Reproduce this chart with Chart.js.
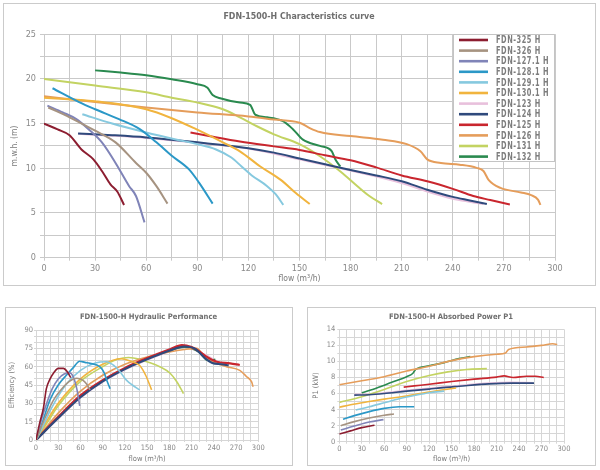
<!DOCTYPE html>
<html><head><meta charset="utf-8">
<script src="https://cdn.jsdelivr.net/npm/chart.js@4.4.1/dist/chart.umd.min.js"></script>
<style>
html,body{margin:0;padding:0;background:#fff;width:600px;height:470px;overflow:hidden}
.panel{position:absolute;border:1.5px solid #cbcbcb;box-sizing:border-box}
canvas{position:absolute}
</style></head><body>
<div class="panel" style="left:3px;top:3px;width:593px;height:283px"></div>
<div class="panel" style="left:5px;top:307px;width:288px;height:159px"></div>
<div class="panel" style="left:307px;top:307px;width:289px;height:159px"></div>
<canvas id="c1" width="590" height="280" style="left:4px;top:4px"></canvas>
<canvas id="c2" width="285" height="156" style="left:6px;top:308px"></canvas>
<canvas id="c3" width="286" height="156" style="left:308px;top:308px"></canvas>
<script>
// ---------- series names ----------
const seriesNames = ['FDN-325 H','FDN-326 H','FDN-127.1 H','FDN-128.1 H','FDN-129.1 H','FDN-130.1 H','FDN-123 H','FDN-124 H','FDN-125 H','FDN-126 H','FDN-131 H','FDN-132 H'];

// ---------- head curves (flow m3/h, head m) ----------
const q325h = [0, 8, 15, 22, 29, 34, 39, 43, 47];
const h325  = [15, 14.35, 13.7, 12.1, 11.0, 9.7, 8.2, 7.4, 5.9];
const q326h = [2.5, 15, 30, 42, 54, 60, 66, 72.5];
const h326  = [16.8, 15.7, 14.2, 12.9, 10.6, 9.5, 8.0, 6.05];
const q1271h = [2, 11, 19, 26, 34, 42, 50, 54, 59];
const h1271  = [17, 16.25, 15.5, 14.4, 12.9, 10.6, 8.0, 6.9, 3.95];
const q1281h = [5, 20.6, 30, 44, 56, 66, 75, 85, 91, 99];
const h1281  = [18.95, 17.4, 16.6, 15.5, 14.4, 12.9, 11.4, 9.9, 8.4, 6.05];
const q1291h = [22.5, 40, 60, 78, 90, 101, 110, 116, 122, 131, 136, 140.5];
const h1291  = [16.05, 15.0, 14.0, 13.2, 12.7, 12.1, 11.2, 10.2, 9.2, 8.0, 7.1, 5.9];
const q1301h = [0, 30, 60, 75, 89, 105, 115, 127, 139, 148, 156];
const h1301  = [17.9, 17.5, 16.6, 15.6, 14.4, 12.9, 11.9, 10.2, 8.7, 7.2, 6.0];
const q123h = [20, 40, 60, 90, 120, 150, 180, 210, 225, 240, 250, 258];
const h123  = [13.85, 13.65, 13.4, 12.85, 12.2, 11.0, 9.75, 8.35, 7.4, 6.6, 6.25, 6.0];
const q124h = [20, 40, 60, 90, 120, 135, 150, 165, 180, 195, 210, 225, 240, 250, 260];
const h124  = [13.9, 13.7, 13.45, 12.9, 12.25, 11.75, 11.1, 10.45, 9.8, 9.2, 8.55, 7.6, 6.8, 6.4, 6.0];
const q125h = [86, 100, 115, 135, 150, 165, 180, 195, 210, 225, 240, 252, 262, 273.5];
const h125  = [14.0, 13.5, 13.0, 12.45, 12.05, 11.45, 10.9, 10.1, 9.2, 8.55, 7.7, 6.9, 6.45, 5.95];
const q126h = [0, 30, 60, 90, 120, 135, 150, 156, 162, 180, 199, 213, 221, 225, 233, 244, 254, 258, 261, 268, 280, 286, 290, 291.5];
const h126  = [18.05, 17.4, 16.8, 16.25, 15.8, 15.45, 15.1, 14.5, 14.05, 13.6, 13.2, 12.7, 11.9, 11.0, 10.6, 10.4, 10.05, 9.7, 8.7, 7.8, 7.3, 7.0, 6.5, 5.9];
const q131h = [0, 30, 60, 75, 89, 105, 115, 125, 135, 150, 162, 174, 184, 191, 198.5];
const h131  = [20, 19.25, 18.5, 17.9, 17.4, 16.6, 15.7, 14.7, 13.8, 12.7, 11.35, 9.65, 8.0, 6.9, 6.0];
const q132h = [30, 45, 60, 75, 90, 96, 99, 104, 115, 121, 124, 131, 140, 146, 152, 162, 169, 171, 174];
const h132  = [20.95, 20.7, 20.4, 19.95, 19.4, 19.0, 18.2, 17.8, 17.35, 17.1, 16.0, 15.7, 15.3, 14.4, 13.2, 12.5, 11.9, 11.0, 10.2];

// ---------- efficiency curves (flow m3/h, %) ----------
const q325e = [0, 5, 10, 14, 19, 24, 30, 37, 42, 47];
const e325  = [0, 14, 26, 42, 50, 55, 58.6, 58.6, 56, 51];
const q326e = [0, 10, 23, 35, 45, 55, 63, 68, 73];
const e326  = [0, 15, 32, 42, 48, 50.5, 49, 46, 41];
const q1271e = [0, 8, 15, 22, 30, 38, 45, 50, 55, 59];
const e1271  = [0, 18, 31, 42, 50, 54, 55, 52, 42, 28];
const q1281e = [0, 5, 10, 19, 30, 41, 50, 59, 66, 73, 86, 92, 96, 100];
const e1281  = [0, 8, 17, 33, 45, 53, 59, 64.5, 63.5, 62.7, 60, 55, 48, 42];
const q1291e = [0, 10, 20, 40, 60, 80, 95, 105, 113, 122, 130, 140];
const e1291  = [0, 12, 25, 45, 57, 63, 64, 61, 56, 49, 45, 41];
const q1301e = [0, 15, 30, 60, 90, 115, 130, 140, 148, 156];
const e1301  = [0, 16, 30, 50, 62, 66.5, 64, 61, 53, 41];
const q123e = [0, 30, 60, 90, 120, 150, 180, 200, 215, 228, 240, 250, 258];
const e123  = [0, 17.5, 34.5, 47.5, 57.5, 65.5, 72.5, 75.8, 73.5, 70, 66, 63, 61];
const q124e = [0, 30, 60, 90, 120, 150, 180, 200, 215, 228, 238, 250, 260];
const e124  = [0, 18, 35, 48, 58, 66, 73, 76.5, 74.5, 67, 63, 62, 61];
const q125e = [0, 30, 60, 90, 120, 150, 180, 197, 210, 221, 230, 244, 262, 275];
const e125  = [0, 19, 36.5, 49, 59, 67, 74, 77.7, 76, 72.3, 68.2, 64, 62.7, 61.4];
const q126e = [0, 30, 60, 90, 120, 150, 180, 200, 217, 225, 239, 257, 275, 284, 291, 293];
const e126  = [0, 22, 40, 53, 62, 68, 72, 74, 75, 70, 64, 60, 57, 52, 47.5, 43.5];
const q131e = [0, 15, 30, 60, 90, 110, 125, 140, 150, 167, 181, 190, 199];
const e131  = [0, 14, 28, 48, 60, 66, 67.5, 66, 64, 60, 54.6, 47.7, 38];
const q132e = [0, 30, 60, 90, 120, 150, 175, 200, 220, 232, 242];
const e132  = [0, 18.5, 35.5, 48.5, 58.5, 66.5, 72, 76, 72, 65, 66];

// ---------- absorbed power curves (flow m3/h, kW) ----------
const q325p = [0, 15, 30, 47];
const p325  = [0.95, 1.35, 1.75, 2.05];
const q326p = [2, 20, 40, 60, 73];
const p326  = [2.0, 2.5, 2.95, 3.3, 3.45];
const q1271p = [2, 20, 40, 59];
const p1271  = [1.45, 1.95, 2.45, 2.75];
const q1281p = [5, 20, 40, 60, 80, 100];
const p1281  = [2.8, 3.25, 3.75, 4.15, 4.35, 4.35];
const q1291p = [22, 40, 60, 80, 100, 120, 140];
const p1291  = [3.95, 4.35, 4.85, 5.35, 5.75, 6.1, 6.3];
const q1301p = [0, 15, 40, 60, 90, 120, 156];
const p1301  = [4.3, 4.6, 5.0, 5.3, 5.7, 6.2, 6.7];
const q123p = [20, 40, 60, 90, 120, 160, 200, 230, 258];
const p123  = [5.9, 5.95, 6.1, 6.4, 6.65, 7.0, 7.3, 7.4, 7.35];
const q124p = [20, 40, 60, 90, 120, 135, 160, 200, 230, 260];
const p124  = [5.8, 5.85, 6.0, 6.3, 6.55, 6.7, 6.9, 7.2, 7.3, 7.3];
const q125p = [86, 100, 120, 150, 180, 210, 220, 232, 250, 262, 273];
const p125  = [6.8, 6.95, 7.15, 7.5, 7.8, 8.05, 8.2, 8.0, 8.15, 8.15, 8.0];
const q126p = [0, 30, 60, 90, 120, 150, 180, 210, 222, 226, 250, 270, 285, 291];
const p126  = [7.1, 7.6, 8.1, 8.8, 9.4, 10.1, 10.6, 10.9, 11.05, 11.5, 11.8, 12.0, 12.2, 12.1];
const q131p = [0, 30, 60, 90, 120, 145, 170, 197];
const p131  = [4.9, 5.6, 6.5, 7.5, 8.25, 8.7, 9.0, 9.1];
const q132p = [30, 50, 70, 90, 98, 102, 120, 140, 160, 175];
const p132  = [6.1, 6.7, 7.4, 8.1, 8.5, 9.0, 9.45, 9.85, 10.35, 10.6];

// ---------- styles ----------
const colors = ['#8c1d30','#a69381','#8084b8','#2b98c7','#86c9df','#f1b43e','#e8c0dc','#2f4a7c','#c9262e','#e59d5b','#c3d362','#2a8a4f'];
const FONT = "'Liberation Sans Narrow','DejaVu Sans Condensed','Arial Narrow',sans-serif";

const headSets = [[q325h,h325],[q326h,h326],[q1271h,h1271],[q1281h,h1281],[q1291h,h1291],[q1301h,h1301],[q123h,h123],[q124h,h124],[q125h,h125],[q126h,h126],[q131h,h131],[q132h,h132]];
const effSets  = [[q325e,e325],[q326e,e326],[q1271e,e1271],[q1281e,e1281],[q1291e,e1291],[q1301e,e1301],[q123e,e123],[q124e,e124],[q125e,e125],[q126e,e126],[q131e,e131],[q132e,e132]];
const powSets  = [[q325p,p325],[q326p,p326],[q1271p,p1271],[q1281p,p1281],[q1291p,p1291],[q1301p,p1301],[q123p,p123],[q124p,p124],[q125p,p125],[q126p,p126],[q131p,p131],[q132p,p132]];

function mkData(sets, width) {
  return {datasets: sets.map((s, i) => ({
    label: seriesNames[i],
    data: s[0].map((x, k) => ({x: x, y: s[1][k]})),
    borderColor: colors[i],
    backgroundColor: colors[i],
    borderWidth: (typeof width === 'function') ? width(i) : width,
    pointRadius: 0,
    fill: false,
    cubicInterpolationMode: 'monotone',
    order: i === 6 ? 1 : 0
  }))};
}

const boxLegend = {
  id: 'boxLegend',
  afterDraw(chart) {
    const ctx = chart.ctx, xs = chart.scales.x, ys = chart.scales.y;
    const left = Math.round(xs.getPixelForValue(240)), right = Math.round(xs.right), top = Math.round(ys.top), bottom = top + 128;
    ctx.save();
    ctx.fillStyle = '#fff';
    ctx.fillRect(left, top, right - left, bottom - top);
    ctx.strokeStyle = '#c4c4c4';
    ctx.lineWidth = 1;
    ctx.strokeRect(left + 0.5, top + 0.5, right - left - 1, bottom - top - 1);
    ctx.font = 'bold 10.5px ' + FONT;
    ctx.textBaseline = 'middle';
    try { ctx.letterSpacing = '0.8px'; } catch (e) {}
    chart.data.datasets.forEach((ds, i) => {
      const y = top + 6 + i * 10.6;
      ctx.strokeStyle = ds.borderColor;
      ctx.lineWidth = 2.6;
      ctx.beginPath(); ctx.moveTo(left + 6, y); ctx.lineTo(left + 35, y); ctx.stroke();
      ctx.fillStyle = '#7d7d7d';
      ctx.save();
      ctx.translate(left + 43, y + 0.5);
      ctx.scale(0.7, 1);
      ctx.fillText(ds.label, 0, 0);
      ctx.restore();
    });
    ctx.restore();
  }
};

function axisOpts(o) {
  return {
    type: 'linear', min: o.min, max: o.max,
    afterFit: (s) => { if (o.w !== undefined) s.width = o.w; if (o.h !== undefined) s.height = o.h; },
    ticks: {
      stepSize: o.step, autoSkip: false, maxRotation: 0, padding: o.tpad,
      color: '#8a8a8a', font: {family: FONT, size: o.fs},
      callback: (v) => (Math.abs(v % o.lab) < 1e-6 ? v : '')
    },
    grid: {color: o.grid, lineWidth: 1, tickLength: o.tl, drawTicks: true},
    border: {color: o.grid},
    title: {display: true, text: o.title, color: '#7a7a7a', font: {family: FONT, size: o.tfs}, padding: o.titlePad}
  };
}

// empty right-hand spacer axis: keeps the title centred on the whole panel
function spacer(w) {
  return {
    type: 'linear', position: 'right', display: true,
    afterFit: (s) => { s.width = w; },
    ticks: {display: false}, grid: {display: false, drawTicks: false}, border: {display: false}
  };
}

Chart.defaults.font.family = FONT;

new Chart(document.getElementById('c1'), {
  type: 'line',
  data: mkData(headSets, 2),
  options: {
    responsive: false, animation: false, events: [],
    layout: {padding: 0},
    plugins: {
      legend: {display: false}, tooltip: {enabled: false},
      title: {display: true, text: 'FDN-1500-H Characteristics curve', color: '#6e6e6e',
        font: {family: FONT, size: 8.8, weight: 'bold'}, padding: {top: 7.6, bottom: 12}}
    },
    scales: {
      x: axisOpts({min: 0, max: 300, step: 15, lab: 30, h: 26.3, tl: 3, tpad: 3, fs: 9, grid: '#c9c9c9', title: 'flow (m³/h)', tfs: 8.5, titlePad: {top: 0, bottom: 0}}),
      y: axisOpts({min: 0, max: 25, step: 2.5, lab: 5, w: 40, tl: 4, tpad: 4, fs: 9, grid: '#c9c9c9', title: 'm.w.h. (m)', tfs: 8.5, titlePad: {top: 5.6, bottom: 0}}),
      yr: spacer(39)
    }
  },
  plugins: [boxLegend]
});

new Chart(document.getElementById('c2'), {
  type: 'line',
  data: mkData(effSets, (i) => (i === 8 || i === 7) ? 2.2 : 1.6),
  options: {
    responsive: false, animation: false, events: [],
    layout: {padding: 0},
    plugins: {
      legend: {display: false}, tooltip: {enabled: false},
      title: {display: true, text: 'FDN-1500-H Hydraulic Performance', color: '#6e6e6e',
        font: {family: FONT, size: 7.6, weight: 'bold'}, padding: {top: 4.4, bottom: 8.5}}
    },
    scales: {
      x: axisOpts({min: 0, max: 300, step: 10, lab: 30, h: 24, tl: 2, tpad: 2, fs: 7.5, grid: '#d6d6d6', title: 'flow (m³/h)', tfs: 7.5, titlePad: {top: 0, bottom: 0.5}}),
      y: axisOpts({min: 0, max: 90, step: 5, lab: 15, w: 30, tl: 2, tpad: 1, fs: 7.5, grid: '#d6d6d6', title: 'Efficiency (%)', tfs: 7.5, titlePad: {top: 1.5, bottom: 0}}),
      yr: spacer(32.7)
    }
  }
});

new Chart(document.getElementById('c3'), {
  type: 'line',
  data: mkData(powSets, 1.6),
  options: {
    responsive: false, animation: false, events: [],
    layout: {padding: 0},
    plugins: {
      legend: {display: false}, tooltip: {enabled: false},
      title: {display: true, text: 'FDN-1500-H Absorbed Power P1', color: '#6e6e6e',
        font: {family: FONT, size: 7.6, weight: 'bold'}, padding: {top: 4.4, bottom: 7.8}}
    },
    scales: {
      x: axisOpts({min: 0, max: 300, step: 10, lab: 30, h: 22.3, tl: 2, tpad: 1, fs: 7.5, grid: '#d6d6d6', title: 'flow (m³/h)', tfs: 7.5, titlePad: {top: 0, bottom: 0.5}}),
      y: axisOpts({min: 0, max: 14, step: 1, lab: 2, w: 31.3, tl: 2, tpad: 2, fs: 7.5, grid: '#d6d6d6', title: 'P1 (kW)', tfs: 7.5, titlePad: {top: 3.5, bottom: 0}}),
      yr: spacer(30)
    }
  }
});
</script>
</body></html>
